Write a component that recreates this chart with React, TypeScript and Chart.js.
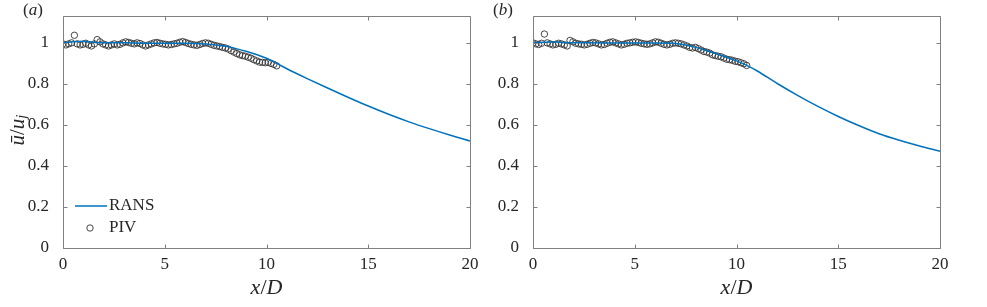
import React, { useEffect, useRef } from "react";
import { Chart, registerables } from "chart.js";
Chart.register(...registerables);

const X_TICKS = [0, 5, 10, 15, 20];
const Y_TICKS = [0, 0.2, 0.4, 0.6, 0.8, 1];

const RANS_X = [0, 0.5, 1, 1.5, 2, 3, 4, 5, 6, 7, 7.5, 8, 8.5, 9, 9.5, 10, 10.5, 11, 12, 13, 14, 15, 16, 17, 18, 19, 20];
const RANS_A = [1.0, 1.005, 1.008, 1.003, 1.0, 1.0, 0.998, 0.998, 0.998, 0.995, 0.99, 0.983, 0.972, 0.959, 0.943, 0.925, 0.9, 0.874, 0.826, 0.78, 0.735, 0.692, 0.652, 0.615, 0.582, 0.551, 0.522];
const RANS_B = [1.0, 1.003, 1.005, 1.002, 1.0, 1.0, 0.999, 0.999, 0.999, 0.997, 0.99, 0.978, 0.963, 0.947, 0.93, 0.912, 0.89, 0.864, 0.802, 0.744, 0.69, 0.641, 0.597, 0.557, 0.525, 0.497, 0.472];

const PIV_X = [
  0.0, 0.14, 0.28, 0.42, 0.56, 0.7, 0.84, 0.98, 1.12, 1.26,
  1.4, 1.54, 1.68, 1.82, 1.96, 2.1, 2.24, 2.38, 2.52, 2.66,
  2.8, 2.94, 3.08, 3.22, 3.36, 3.5, 3.64, 3.78, 3.92, 4.06,
  4.2, 4.34, 4.48, 4.62, 4.76, 4.9, 5.04, 5.18, 5.32, 5.46,
  5.6, 5.74, 5.88, 6.02, 6.16, 6.3, 6.44, 6.58, 6.72, 6.86,
  7.0, 7.14, 7.28, 7.42, 7.56, 7.7, 7.84, 7.98, 8.12, 8.26,
  8.4, 8.54, 8.68, 8.82, 8.96, 9.1, 9.24, 9.38, 9.52, 9.66,
  9.8, 9.94, 10.08, 10.22, 10.36, 10.5,
];
const PIV_A = [
  0.995, 0.99, 0.995, 1.0, 1.037, 0.995, 0.99, 0.993, 0.998, 0.99,
  0.985, 0.995, 1.016, 1.005, 0.995, 0.99, 0.985, 0.99, 0.995, 0.99,
  0.993, 1.0, 1.005, 1.002, 0.998, 0.995, 1.0, 0.997, 0.99, 0.985,
  0.99, 0.995, 1.0, 1.002, 0.998, 0.995, 0.993, 0.99, 0.992, 0.995,
  0.998, 1.003, 1.006, 1.002, 0.997, 0.993, 0.99, 0.988, 0.992, 0.997,
  1.0, 0.998, 0.993, 0.988, 0.985, 0.982, 0.978, 0.975, 0.97, 0.962,
  0.955, 0.948, 0.942, 0.938, 0.935, 0.93, 0.925, 0.918, 0.912, 0.906,
  0.905, 0.903, 0.905, 0.9, 0.895, 0.888,
];
const PIV_B = [
  1.0, 0.995, 0.992, 0.998, 1.043, 1.0, 0.995, 0.99, 0.993, 0.998,
  0.995, 0.99, 0.985, 1.012, 1.005, 0.998, 0.995, 0.993, 0.99, 0.993,
  0.998, 1.002, 1.0, 0.995, 0.99, 0.992, 0.998, 1.003, 1.005, 1.0,
  0.995, 0.99, 0.993, 0.998, 1.0, 1.003, 1.005, 1.002, 0.998, 0.995,
  0.993, 0.995, 1.0, 1.005, 1.003, 0.998, 0.993, 0.99, 0.993, 0.998,
  1.0, 0.998, 0.995, 0.99, 0.985, 0.978, 0.975, 0.978, 0.972, 0.965,
  0.958, 0.955, 0.95, 0.942, 0.938, 0.935, 0.932, 0.926, 0.92, 0.918,
  0.915, 0.91, 0.908, 0.903, 0.898, 0.89,
];

const SERIF = "'Liberation Serif', 'DejaVu Serif', serif";
const BLUE = "#0072BD";
const TEXT = "#262626";
const AXIS = "#808080";

type Part = { t: string; italic?: boolean; size: number; dy?: number };

function drawRich(ctx: CanvasRenderingContext2D, parts: Part[], cx: number, cy: number, align: "center" | "left" = "center") {
  let total = 0;
  const widths = parts.map((p) => {
    ctx.font = `${p.italic ? "italic " : ""}${p.size}px ${SERIF}`;
    const w = ctx.measureText(p.t).width;
    total += w;
    return w;
  });
  let x = align === "center" ? cx - total / 2 : cx;
  ctx.textBaseline = "middle";
  ctx.textAlign = "left";
  parts.forEach((p, i) => {
    ctx.font = `${p.italic ? "italic " : ""}${p.size}px ${SERIF}`;
    ctx.fillText(p.t, x, cy + (p.dy || 0));
    x += widths[i];
  });
}

type PanelCfg = {
  left: number;
  width: number;
  yAxisWidth: number;
  padRight: number;
  rans: number[];
  piv: number[];
  letter: string;
  showYTitle: boolean;
  showLegend: boolean;
};

const CANVAS_H = 307;

function Panel({ cfg }: { cfg: PanelCfg }) {
  const ref = useRef<HTMLCanvasElement | null>(null);
  useEffect(() => {
    const canvas = ref.current!;
    const decor = {
      id: "decor",
      afterDatasetsDraw(chart: any) {
        const { ctx, chartArea, scales } = chart;
        const { left, right, top, bottom } = chartArea;
        const L = Math.round(left) + 0.5;
        const R = Math.round(right) + 0.5;
        const T = Math.round(top) + 0.5;
        const B = Math.round(bottom) + 0.5;
        ctx.save();
        ctx.strokeStyle = AXIS;
        ctx.lineWidth = 1;
        ctx.beginPath();
        ctx.rect(L, T, R - L, B - T);
        ctx.stroke();
        const tl = 4;
        ctx.beginPath();
        scales.x.ticks.forEach((t: any) => {
          const px = Math.round(scales.x.getPixelForValue(t.value)) + 0.5;
          ctx.moveTo(px, B);
          ctx.lineTo(px, B - tl);
          ctx.moveTo(px, T);
          ctx.lineTo(px, T + tl);
        });
        scales.y.ticks.forEach((t: any) => {
          const py = Math.round(scales.y.getPixelForValue(t.value)) + 0.5;
          ctx.moveTo(L, py);
          ctx.lineTo(L + tl, py);
          ctx.moveTo(R, py);
          ctx.lineTo(R - tl, py);
        });
        ctx.stroke();

        ctx.fillStyle = TEXT;
        const xc = (left + right) / 2;
        drawRich(ctx, [
          { t: "x", italic: true, size: 22 },
          { t: "/", size: 22 },
          { t: "D", italic: true, size: 22 },
        ], xc, 288);
        drawRich(ctx, [
          { t: "(", size: 17 },
          { t: cfg.letter, italic: true, size: 17 },
          { t: ")", size: 17 },
        ], left - 30, 11);
        if (cfg.showYTitle) {
          ctx.save();
          ctx.translate(18, (top + bottom) / 2 - 2);
          ctx.rotate(-Math.PI / 2);
          drawRich(ctx, [
            { t: "ū", italic: true, size: 21 },
            { t: "/", size: 21 },
            { t: "u", italic: true, size: 21 },
            { t: "j", italic: true, size: 15, dy: 4 },
          ], 0, 0);
          ctx.restore();
        }
        if (cfg.showLegend) {
          const y1 = 206;
          const y2 = 228;
          ctx.strokeStyle = BLUE;
          ctx.lineWidth = 1.5;
          ctx.beginPath();
          ctx.moveTo(75, y1);
          ctx.lineTo(107, y1);
          ctx.stroke();
          ctx.strokeStyle = "#333333";
          ctx.lineWidth = 0.9;
          ctx.beginPath();
          ctx.arc(90, y2, 3.2, 0, Math.PI * 2);
          ctx.stroke();
          ctx.fillStyle = TEXT;
          drawRich(ctx, [{ t: "RANS", size: 17 }], 109, y1, "left");
          drawRich(ctx, [{ t: "PIV", size: 17 }], 109, y2, "left");
        }
        ctx.restore();
      },
    };

    const chart = new Chart(canvas, {
      type: "scatter",
      data: {
        datasets: [
          {
            label: "RANS",
            data: RANS_X.map((x, i) => ({ x, y: cfg.rans[i] })),
            showLine: true,
            borderColor: BLUE,
            borderWidth: 1.5,
            pointRadius: 0,
            cubicInterpolationMode: "monotone",
            fill: false,
          } as any,
          {
            label: "PIV",
            data: PIV_X.map((x, i) => ({ x, y: cfg.piv[i] })),
            showLine: false,
            pointStyle: "circle",
            pointRadius: 3.2,
            borderColor: "#333333",
            backgroundColor: "rgba(0,0,0,0)",
            borderWidth: 0.9,
          } as any,
        ],
      },
      options: {
        animation: false,
        responsive: false,
        devicePixelRatio: 1,
        layout: { padding: { top: 13, right: cfg.padRight, left: 0, bottom: 0 } },
        plugins: { legend: { display: false }, tooltip: { enabled: false } },
        scales: {
          x: {
            type: "linear",
            min: 0,
            max: 20,
            grid: { display: false },
            border: { display: false },
            afterBuildTicks: (s: any) => {
              s.ticks = X_TICKS.map((v) => ({ value: v }));
            },
            afterFit: (s: any) => {
              s.height = 59;
            },
            ticks: {
              padding: -2,
              color: TEXT,
              font: { family: SERIF, size: 17 },
              maxRotation: 0,
              callback: (v: any) => String(v),
            },
          },
          y: {
            type: "linear",
            min: 0,
            max: 1.13,
            grid: { display: false },
            border: { display: false },
            afterBuildTicks: (s: any) => {
              s.ticks = Y_TICKS.map((v) => ({ value: v }));
            },
            afterFit: (s: any) => {
              s.width = cfg.yAxisWidth;
            },
            ticks: {
              padding: 6,
              color: TEXT,
              font: { family: SERIF, size: 17 },
              callback: (v: any) => String(Number(Number(v).toFixed(1))),
            },
          },
        },
      },
      plugins: [decor],
    });
    return () => chart.destroy();
  }, [cfg]);

  return (
    <canvas
      ref={ref}
      width={cfg.width}
      height={CANVAS_H}
      style={{ position: "absolute", left: cfg.left, top: 0, width: cfg.width, height: CANVAS_H }}
    />
  );
}

const PANEL_A: PanelCfg = {
  left: 0, width: 487, yAxisWidth: 63, padRight: 17,
  rans: RANS_A, piv: PIV_A, letter: "a", showYTitle: true, showLegend: true,
};
const PANEL_B: PanelCfg = {
  left: 487, width: 500, yAxisWidth: 46, padRight: 47,
  rans: RANS_B, piv: PIV_B, letter: "b", showYTitle: false, showLegend: false,
};

export default function App() {
  return (
    <div style={{ position: "fixed", left: 0, top: 0, width: 987, height: 307, background: "#fff" }}>
      <Panel cfg={PANEL_A} />
      <Panel cfg={PANEL_B} />
    </div>
  );
}
